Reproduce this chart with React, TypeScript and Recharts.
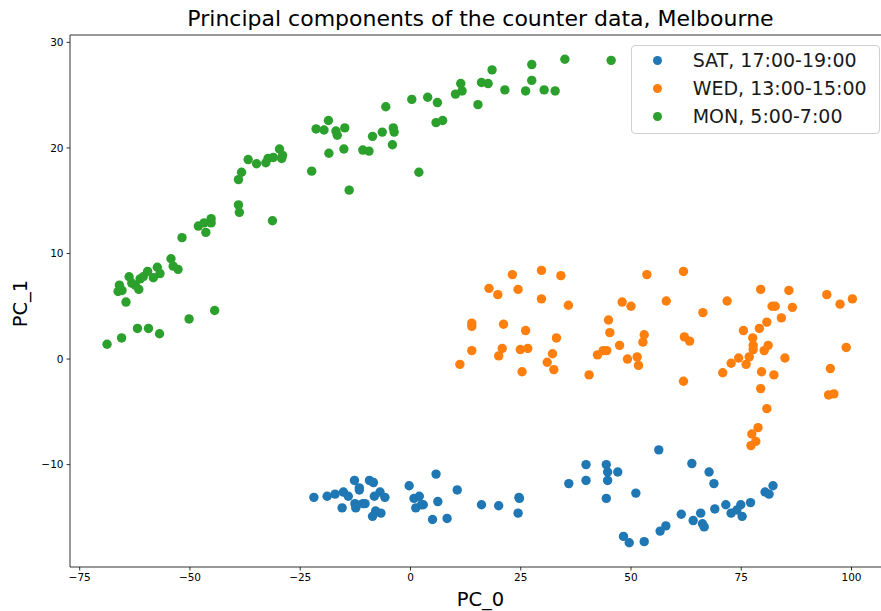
import React from 'react';
import { ScatterChart, Scatter, XAxis, YAxis, ReferenceArea } from 'recharts';

// points, [PC_0, PC_1]
const satPoints: [number, number][] = [
  [-21.9, -13.1], [-18.9, -13.0], [-17.1, -12.8], [-15.2, -12.6], [-14.1, -13.0], [-15.5, -14.1],
  [-12.7, -11.5], [-11.6, -12.2], [-11.6, -12.4], [-12.6, -13.7], [-12.4, -14.1], [-10.8, -13.7],
  [-10.3, -13.7], [-9.3, -11.5], [-8.4, -11.7], [-8.2, -13.0], [-6.9, -12.6], [-5.8, -13.1],
  [-7.9, -14.4], [-8.6, -14.9], [-6.7, -14.6], [-0.3, -12.0], [0.8, -13.2], [2.0, -13.0],
  [1.2, -14.1], [2.5, -13.8], [2.9, -13.8], [5.8, -10.9], [6.2, -13.5], [5.0, -15.2],
  [8.3, -15.1], [10.6, -12.4], [16.1, -13.8], [20.0, -13.9], [24.6, -13.1], [24.7, -13.2],
  [24.4, -14.6], [35.9, -11.8], [39.8, -10.0], [39.8, -11.5], [44.4, -10.0], [44.7, -10.7],
  [44.7, -11.5], [47.0, -10.7], [44.4, -13.2], [51.1, -12.7], [56.3, -8.6], [63.8, -9.9],
  [67.7, -10.7], [68.8, -11.8], [48.3, -16.8], [49.6, -17.4], [53.0, -17.3], [56.6, -16.3],
  [57.9, -15.8], [61.4, -14.7], [64.1, -15.3], [65.8, -14.6], [66.2, -15.6], [66.6, -15.9],
  [69.0, -14.2], [71.5, -13.8], [72.7, -14.6], [74.0, -14.3], [74.9, -13.8], [75.2, -14.9],
  [77.1, -13.6], [80.4, -12.6], [81.3, -12.8], [82.2, -12.0],
];

const wedPoints: [number, number][] = [
  [23.1, 8.0], [29.7, 8.4], [34.1, 7.9], [53.6, 8.0], [17.8, 6.7], [19.8, 6.1], [24.4, 6.6],
  [29.7, 5.7], [35.8, 5.1], [48.0, 5.4], [50.0, 5.0], [13.9, 3.4], [13.9, 3.1], [21.1, 3.3],
  [26.1, 2.7], [44.9, 3.7], [45.2, 2.5], [53.0, 2.3], [52.7, 1.6], [33.1, 2.0], [13.9, 0.8],
  [20.8, 1.0], [20.0, 0.3], [24.9, 0.9], [26.6, 1.0], [32.2, 0.5], [31.0, -0.3], [32.5, -1.0],
  [25.3, -1.2], [11.2, -0.5], [40.5, -1.5], [42.4, 0.4], [43.7, 0.8], [44.5, 0.8], [47.4, 1.3],
  [49.2, 0.0], [51.4, 0.2], [51.7, -0.6], [61.9, 8.3], [58.0, 5.5], [71.8, 5.5], [66.3, 4.4],
  [79.4, 6.6], [85.8, 6.5], [94.4, 6.1], [100.2, 5.7], [97.4, 5.2], [82.0, 5.0], [82.7, 5.0],
  [86.6, 4.9], [84.1, 3.9], [80.8, 3.5], [79.1, 2.9], [75.5, 2.7], [77.6, 2.0], [77.7, 1.3],
  [77.7, 0.9], [81.1, 1.3], [80.2, 0.8], [76.8, 0.2], [74.4, 0.1], [72.7, -0.4], [76.1, -0.5],
  [70.8, -1.3], [84.9, 0.1], [79.6, -1.2], [82.4, -1.5], [79.4, -2.8], [80.8, -4.7], [78.8, -6.5],
  [77.4, -7.1], [78.3, -7.8], [77.2, -8.2], [98.8, 1.1], [95.2, -0.9], [94.8, -3.4], [96.0, -3.3],
  [61.9, -2.1], [62.1, 2.1], [63.3, 1.7],
];

const monPoints: [number, number][] = [
  [-68.8, 1.4], [-65.5, 2.0], [-61.9, 2.9], [-59.4, 2.9], [-56.9, 2.4], [-50.2, 3.8], [-44.4, 4.6],
  [-64.5, 5.4], [-66.3, 6.4], [-65.4, 6.5], [-66.0, 7.0], [-61.6, 6.6], [-62.4, 7.0], [-63.2, 7.2],
  [-63.8, 7.8], [-61.3, 7.6], [-60.6, 7.8], [-58.3, 7.7], [-59.6, 8.3], [-56.8, 8.1], [-57.4, 8.7],
  [-54.3, 9.5], [-53.8, 8.8], [-52.7, 8.5], [-51.8, 11.5], [-48.1, 12.6], [-46.8, 12.9], [-46.4, 12.0],
  [-45.2, 12.9], [-45.2, 13.3], [-39.0, 14.6], [-38.8, 13.9], [-31.3, 13.1], [-39.0, 17.0], [-38.3, 17.7],
  [-36.8, 18.9], [-34.9, 18.5], [-32.8, 18.6], [-32.3, 19.0], [-31.1, 19.1], [-29.7, 19.9], [-29.0, 19.3],
  [-29.2, 19.0], [-22.4, 17.8], [-21.4, 21.8], [-19.6, 21.7], [-18.6, 22.6], [-16.9, 21.6], [-16.6, 21.2],
  [-14.9, 21.9], [-15.1, 19.9], [-18.5, 19.5], [-13.9, 16.0], [-10.8, 19.8], [-9.4, 19.7], [-8.6, 21.1],
  [-6.4, 21.5], [-5.6, 23.9], [-3.9, 21.9], [-3.7, 21.5], [-4.1, 20.3], [1.9, 17.7], [0.3, 24.6],
  [3.9, 24.8], [6.1, 24.3], [5.8, 22.4], [7.3, 22.6], [10.2, 25.1], [11.4, 26.1], [11.7, 25.4],
  [15.3, 24.1], [16.1, 26.2], [17.6, 26.1], [18.5, 27.4], [21.4, 25.5], [26.1, 25.4], [27.5, 27.9],
  [27.5, 26.4], [30.3, 25.5], [32.8, 25.4], [35.0, 28.4], [45.5, 28.3],
];

const seriesNames = ['SAT, 17:00-19:00', 'WED, 13:00-15:00', 'MON, 5:00-7:00'];
const seriesColors = ['#1f77b4', '#ff7f0e', '#2ca02c'];
const xTicks = [-75, -50, -25, 0, 25, 50, 75, 100];
const yTicks = [-10, 0, 10, 20, 30];
const xDomain: [number, number] = [-77.2, 108.5];
const yDomain: [number, number] = [-19.7, 30.7];

const toRows = (pts: [number, number][]) => pts.map(([x, y]) => ({ x, y }));
const fmt = (v: number) => (v < 0 ? '\u2212' + Math.abs(v) : String(v));

const dot = (color: string) => (props: any) =>
  <circle cx={props.cx} cy={props.cy} r={4.7} fill={color} />;

const tickStyle = { fill: '#000', fontSize: 10.5 };

export default function App() {
  const series = [satPoints, wedPoints, monPoints];
  return (
    <div style={{ position: 'absolute', left: 0, top: 0, width: 881, height: 611, overflow: 'hidden', background: '#fff', fontFamily: 'DejaVu Sans' }}>
      <div style={{ position: 'absolute', left: 0, width: 961, top: 8, textAlign: 'center', fontSize: 22, lineHeight: '22px', color: '#000' }}>
        Principal components of the counter data, Melbourne
      </div>
      <ScatterChart width={900} height={611} margin={{ top: 35, right: 11, bottom: 0, left: 0 }}>
        <XAxis
          type="number"
          dataKey="x"
          domain={xDomain}
          ticks={xTicks}
          allowDataOverflow
          tickFormatter={fmt}
          tick={tickStyle}
          tickSize={3.5}
          tickMargin={3}
          height={44}
          axisLine={false}
          tickLine={{ stroke: '#000', strokeWidth: 0.8 }}
        />
        <YAxis
          type="number"
          dataKey="y"
          domain={yDomain}
          ticks={yTicks}
          allowDataOverflow
          tickFormatter={fmt}
          tick={tickStyle}
          tickSize={3.5}
          tickMargin={3}
          width={70}
          axisLine={false}
          tickLine={{ stroke: '#000', strokeWidth: 0.8 }}
        />
        <ReferenceArea x1={xDomain[0]} x2={xDomain[1]} y1={yDomain[0]} y2={yDomain[1]} fill="none" stroke="#333" strokeWidth={1} fillOpacity={0} />
        {series.map((pts, i) => (
          <Scatter
            key={seriesNames[i]}
            name={seriesNames[i]}
            data={toRows(pts)}
            fill={seriesColors[i]}
            shape={dot(seriesColors[i])}
            isAnimationActive={false}
          />
        ))}
      </ScatterChart>
      <div style={{ position: 'absolute', left: 0, width: 961, top: 590, textAlign: 'center', fontSize: 19.5, lineHeight: '19px', color: '#000' }}>
        PC_0
      </div>
      <div style={{ position: 'absolute', left: 20 - 100, top: 303 - 9.5, width: 200, textAlign: 'center', fontSize: 19.5, lineHeight: '19px', color: '#000', transform: 'rotate(-90deg)' }}>
        PC_1
      </div>
      <div style={{ position: 'absolute', left: 631, top: 45, width: 249, height: 89, boxSizing: 'border-box', border: '1px solid #d0d0d0', borderRadius: 4, background: 'rgba(255,255,255,0.8)' }} />
      {seriesNames.map((name, i) => {
        const cy = 60.7 + i * 27.7;
        return (
          <React.Fragment key={name}>
            <div style={{ position: 'absolute', left: 657.7 - 4.5, top: cy - 4.5, width: 9, height: 9, borderRadius: '50%', background: seriesColors[i] }} />
            <div style={{ position: 'absolute', left: 692.7, top: cy - 9.5, fontSize: 19, lineHeight: '19px', color: '#1a1a1a', whiteSpace: 'nowrap' }}>
              {name}
            </div>
          </React.Fragment>
        );
      })}
    </div>
  );
}
